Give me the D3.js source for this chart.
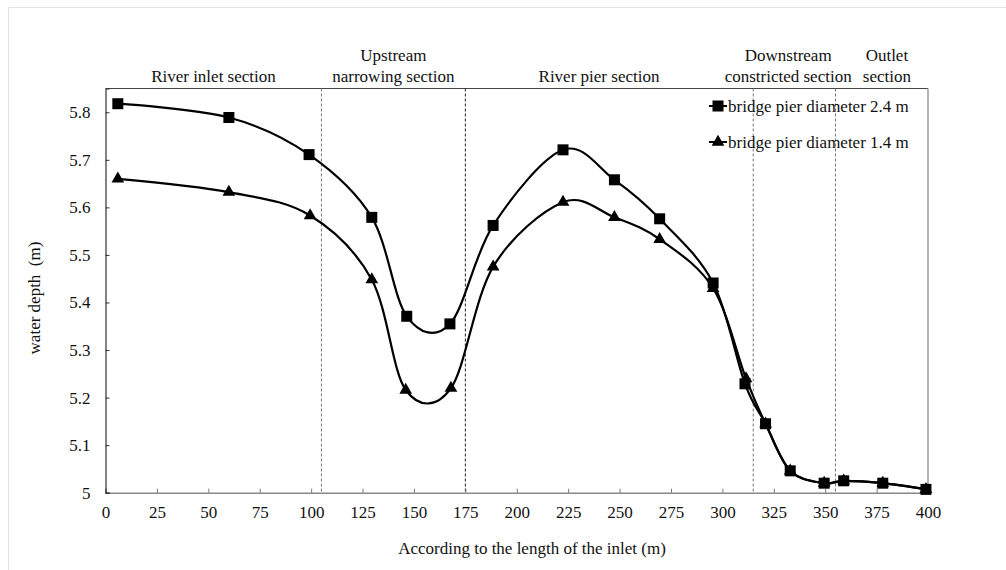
<!DOCTYPE html>
<html><head><meta charset="utf-8">
<script src="https://cdn.jsdelivr.net/npm/d3@7"></script>
<style>body{margin:0;background:#fff}svg{display:block}
svg text{font-family:'Liberation Serif','Times New Roman',Tinos,'DejaVu Serif',serif !important;fill:#111}</style>
</head><body><svg id="c" width="1006" height="570"></svg>
<script>
const xDist1 = [6, 60, 99, 129.5, 146.5, 167.5, 188.5, 222.5, 247.5, 269.5, 295.5, 311, 321, 333, 349.5, 359, 378, 399];
const depth24 = [5.818, 5.789, 5.711, 5.579, 5.371, 5.355, 5.562, 5.721, 5.658, 5.576, 5.441, 5.229, 5.145, 5.046, 5.020, 5.025, 5.020, 5.007];
const xDist2 = [6, 60, 99.5, 129.5, 146, 168, 188.5, 222.5, 247.5, 269.5, 295.5, 311.5, 321, 333, 349.5, 359, 378, 399];
const depth14 = [5.660, 5.632, 5.583, 5.448, 5.216, 5.220, 5.475, 5.611, 5.579, 5.533, 5.430, 5.240, 5.145, 5.046, 5.020, 5.025, 5.020, 5.007];
const xTicks = [0,25,50,75,100,125,150,175,200,225,250,275,300,325,350,375,400];
const yTicks = [5,5.1,5.2,5.3,5.4,5.5,5.6,5.7,5.8];
const dividers = [105, 175, 315, 355];
const sections = [
  {lines:["River inlet section"], x:52.5},
  {lines:["Upstream","narrowing section"], x:140},
  {lines:["River pier section"], x:240},
  {lines:["Downstream","constricted section"], x:332},
  {lines:["Outlet","section"], x:380}
];
const seriesNames = ["bridge pier diameter 2.4 m","bridge pier diameter 1.4 m"];

const FONT = "'Liberation Serif','Times New Roman',Tinos,'DejaVu Serif',serif";
const svg = d3.select("#c");
const L=105.5, R=928, T=88.5, B=492.7;
const x = d3.scaleLinear().domain([0,400]).range([L,R]);
const y = d3.scaleLinear().domain([5,5.85]).range([B,T]);

// outer frame
svg.append("path").attr("d","M8.5,570V7.5H1006").attr("fill","none").attr("stroke","#e2e2e2").attr("stroke-width",1);

// plot border top & right
svg.append("line").attr("x1",L).attr("x2",R).attr("y1",T).attr("y2",T).attr("stroke","#444").attr("stroke-width",1);
svg.append("line").attr("x1",R).attr("x2",R).attr("y1",T).attr("y2",B).attr("stroke","#999").attr("stroke-width",1.5);

// dividers
dividers.forEach(d=>{
  svg.append("line").attr("x1",x(d)).attr("x2",x(d)).attr("y1",T).attr("y2",B)
    .attr("stroke", d===175?"#222":"#777").attr("stroke-width",1).attr("stroke-dasharray","3,2");
});

// axes
const xAxis = d3.axisBottom(x).tickValues(xTicks).tickSize(-4).tickPadding(10).tickFormat(d3.format("d"));
const gx = svg.append("g").attr("transform",`translate(0,${B})`).call(xAxis).attr("font-family",FONT);
gx.select(".domain").attr("stroke","#888").attr("stroke-width",1.5);
gx.selectAll(".tick line").attr("stroke","#777");
gx.selectAll("text").attr("font-size",17).attr("fill","#111").attr("dy","0.9em");

const yAxis = d3.axisLeft(y).tickValues(yTicks).tickSize(-4).tickPadding(15).tickFormat(d=>d===5?"5":d3.format(".1f")(d));
const gy = svg.append("g").attr("transform",`translate(${L},0)`).call(yAxis).attr("font-family",FONT);
gy.select(".domain").attr("stroke","#333").attr("stroke-width",1.2);
gy.selectAll(".tick line").attr("stroke","#333");
gy.selectAll("text").attr("font-size",17).attr("fill","#111");

// section labels
sections.forEach(s=>{
  const n=s.lines.length;
  s.lines.forEach((t,i)=>{
    svg.append("text").attr("x",x(s.x)).attr("y",82-(n-1-i)*21).attr("text-anchor","middle").attr("font-size",17).attr("font-family",FONT).text(t);
  });
});

// lines
const line = d3.line().x(d=>x(d[0])).y(d=>y(d[1])).curve(d3.curveCardinal.tension(0));
const d1 = xDist1.map((v,i)=>[v,depth24[i]]);
const d2 = xDist2.map((v,i)=>[v,depth14[i]]);
svg.append("path").attr("d",line(d2)).attr("fill","none").attr("stroke","#000").attr("stroke-width",2.2);
svg.append("path").attr("d",line(d1)).attr("fill","none").attr("stroke","#000").attr("stroke-width",2.2);

const tri = d3.symbol().type(d3.symbolTriangle).size(70);
svg.selectAll(".tri").data(d2).enter().append("path").attr("d",tri)
  .attr("transform",d=>`translate(${x(d[0])},${y(d[1])})`).attr("fill","#000");
svg.selectAll(".sq").data(d1).enter().append("rect")
  .attr("x",d=>x(d[0])-5.5).attr("y",d=>y(d[1])-5.5).attr("width",11).attr("height",11).attr("fill","#000");

// legend
const lg = [{n:seriesNames[0], yy:106, s:"sq"},{n:seriesNames[1], yy:142, s:"tri"}];
lg.forEach(l=>{
  svg.append("line").attr("x1",709).attr("x2",727).attr("y1",l.yy).attr("y2",l.yy).attr("stroke","#000").attr("stroke-width",2);
  if(l.s==="sq") svg.append("rect").attr("x",712.5).attr("y",l.yy-5.5).attr("width",11).attr("height",11).attr("fill","#000");
  else svg.append("path").attr("d",tri).attr("transform",`translate(718,${l.yy})`).attr("fill","#000");
  svg.append("text").attr("x",728).attr("y",l.yy).attr("dy","0.35em").attr("font-size",17).attr("font-family",FONT).text(l.n);
});

// axis titles
svg.append("text").attr("transform","translate(40,298) rotate(-90)").attr("text-anchor","middle").attr("font-size",17).attr("font-family",FONT)
  .style("white-space","pre").text("water depth  (m)");
svg.append("text").attr("x",532).attr("y",554).attr("text-anchor","middle").attr("font-size",17).attr("font-family",FONT)
  .text("According to the length of the inlet (m)");
</script></body></html>
